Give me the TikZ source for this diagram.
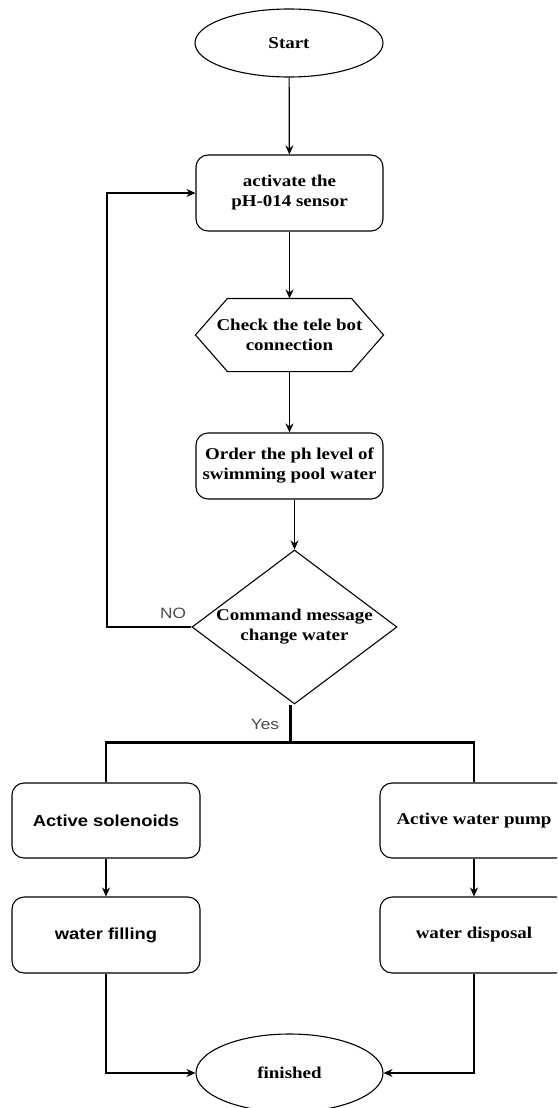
\documentclass[tikz,border=0pt]{standalone}
\usepackage{fontspec}
\newfontfamily\tnr[FakeStretch=1.15]{Liberation Serif}
\newfontfamily\ars[FakeStretch=1.15]{Liberation Sans}
\usetikzlibrary{shapes.geometric,arrows.meta}
\begin{document}
\begin{tikzpicture}[x=1pt,y=-1pt,
  base/.style={line width=1.1pt,align=center,inner sep=0pt,text=black},
  serif/.style={font=\tnr\bfseries\fontsize{16.5}{20}\selectfont},
  sans/.style={font=\ars\bfseries\fontsize{16}{20}\selectfont},
  term/.style={base,draw,serif,ellipse,minimum width=188pt,minimum height=68pt},
  proc/.style={base,draw,rounded corners=12pt,minimum width=187pt,minimum height=76pt},
  hexbox/.style={base,serif,minimum width=187pt,minimum height=72pt},
  decision/.style={base,draw,serif,diamond,aspect=1.33,minimum width=205pt,minimum height=154pt},
  conn/.style={line width=1.2pt,-{Stealth[length=9pt,width=8pt]}},
  yesline/.style={line width=2.4pt},
  lbl/.style={font=\ars\fontsize{15}{18}\selectfont,text=black!70,inner sep=0pt}
]
\useasboundingbox (0,0) rectangle (557,1108);
\clip (0,0) rectangle (557,1108);

\node[term] (start) at (289,43) {Start};
\node[proc,serif] (act) at (289.5,193) {activate the\\pH-014 sensor};
\node[hexbox] (hex) at (289.5,335) {Check the tele bot\\connection};
\draw[line width=1.1pt] (hex.west) -- ([xshift=32pt]hex.north west) -- ([xshift=-32pt]hex.north east)
  -- (hex.east) -- ([xshift=-32pt]hex.south east) -- ([xshift=32pt]hex.south west) -- cycle;
\node[proc,serif,minimum height=66pt] (order) at (289.5,466) {Order the ph level of\\swimming pool water};
\node[decision] (dec) at (294.5,627) {Command message\\change water};

\node[proc,sans,minimum width=188pt,minimum height=75pt] (sol) at (106,820.5) {Active solenoids};
\node[proc,serif,minimum width=188pt,minimum height=75pt] (pump) at (474,820.5) {Active water pump};
\node[proc,sans,minimum width=188pt] (fill) at (106,935) {water filling};
\node[proc,serif,minimum width=188pt] (disp) at (474,935) {water disposal};
\node[term,minimum width=187pt,minimum height=78pt] (fin) at (289.5,1073) {finished};

\coordinate (loopL) at (107,627);
\coordinate (ytop) at ([xshift=-4pt]dec.south);
\coordinate (split) at ([yshift=-38pt]ytop);

\draw[conn] (start) -- (act);
\draw[conn] (act) -- (hex.north);
\draw[conn] (hex.south) -- (order);
\draw[conn] (order.south -| dec.north) -- (dec.north);
\draw[conn] (dec.west) -- (loopL) |- (act.west);
\node[lbl] (no) at (173,613) {NO};

\draw[yesline] (ytop) -- (split);
\draw[yesline] (sol.north) |- (split) -| (pump.north);
\node[lbl] (yes) at (265,724) {Yes};

\draw[conn] (sol) -- (fill);
\draw[conn] (pump) -- (disp);
\draw[conn] (fill.south) |- (fin.west);
\draw[conn] (disp.south) |- (fin.east);
\end{tikzpicture}
\end{document}
